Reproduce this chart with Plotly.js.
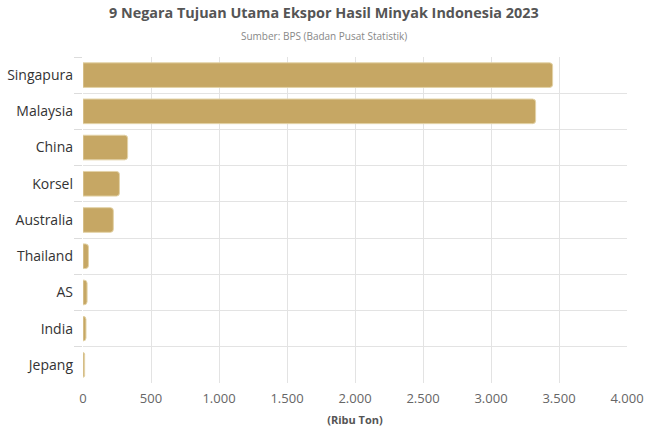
<!DOCTYPE html>
<html>
<head>
<meta charset="utf-8">
<script src="https://cdn.plot.ly/plotly-3.0.1.min.js"></script>
<style>html,body{margin:0;padding:0;background:#fff}#chart{width:647px;height:431px}</style>
</head>
<body>
<div id="chart"></div>
<script>
const countries = ["Singapura","Malaysia","China","Korsel","Australia","Thailand","AS","India","Jepang"];
const exportValues = [3453,3328,328,268,223,40,30,22,12];
const xTickVals = [0,500,1000,1500,2000,2500,3000,3500,4000];
const xTickText = ["0","500","1.000","1.500","2.000","2.500","3.000","3.500","4.000"];
const titleText = "9 Negara Tujuan Utama Ekspor Hasil Minyak Indonesia 2023";
const subtitleText = "Sumber: BPS (Badan Pusat Statistik)";
const xTitle = "(Ribu Ton)";

const FONT = "'Open Sans', sans-serif";
const data = [{
  type: "bar",
  orientation: "h",
  y: countries,
  x: exportValues,
  marker: {color: "#c6a764", cornerradius: 3, line: {color: "#e3d3a8", width: 1}},
  hoverinfo: "x+y"
}];
const layout = {
  width: 647, height: 431,
  margin: {l: 83, r: 20, t: 57, b: 48},
  paper_bgcolor: "#fff", plot_bgcolor: "#fff",
  font: {family: FONT},
  bargap: 0.32,
  showlegend: false,
  xaxis: {
    range: [0, 4000], tickvals: xTickVals, ticktext: xTickText,
    showgrid: true, gridcolor: "#e3e3e3", gridwidth: 1,
    zeroline: false, showline: false, ticks: "",
    tickfont: {size: 13, color: "#666", family: FONT},
    ticklabelstandoff: 6,
    title: {text: xTitle, font: {size: 11, color: "#555", family: FONT, weight: "bold"}, standoff: 10},
    fixedrange: true
  },
  yaxis: {
    autorange: "reversed", type: "category",
    tickson: "boundaries", ticks: "outside", ticklen: 8, tickwidth: 1, tickcolor: "#dcdcdc",
    showgrid: true, gridcolor: "#e3e3e3", gridwidth: 1,
    showline: false, zeroline: false,
    tickfont: {size: 14, color: "#333", family: FONT},
    ticklabelstandoff: 9,
    fixedrange: true
  },
  annotations: [
    {text: titleText, xref: "paper", yref: "paper", x: 0.4421, y: 1, yshift: 45, xanchor: "center", yanchor: "middle",
     showarrow: false, font: {size: 14.4, color: "#555", family: FONT, weight: "bold"}},
    {text: subtitleText, xref: "paper", yref: "paper", x: 0.4421, y: 1, yshift: 21, xanchor: "center", yanchor: "middle",
     showarrow: false, font: {size: 10, color: "#888", family: FONT}}
  ]
};
Plotly.newPlot("chart", data, layout, {displayModeBar: false, staticPlot: true});
</script>
</body>
</html>
